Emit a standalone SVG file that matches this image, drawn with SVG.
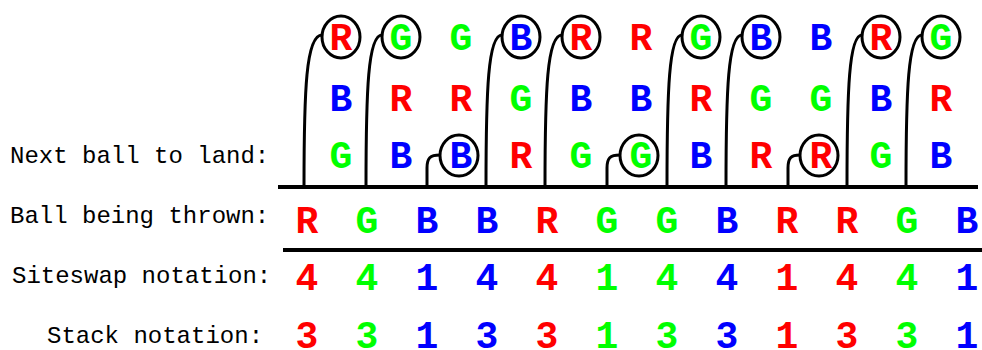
<svg xmlns="http://www.w3.org/2000/svg" width="982" height="350" viewBox="0 0 982 350">
<style>
.lbl{font-family:"Liberation Mono","Courier New",monospace;font-size:24px;fill:#000}
.b{font-family:"Liberation Mono","Courier New",monospace;font-size:38px;font-weight:bold;text-anchor:middle}
.R{fill:#ff0000}.G{fill:#00ff00}.B{fill:#0000ff}
.ring{fill:none;stroke:#000;stroke-width:3}
.con{fill:none;stroke:#000;stroke-width:3}
.bar{stroke:#000;stroke-width:4}
</style>
<rect width="982" height="350" fill="#fff"/>
<g id="labels">
<text class="lbl" x="10" y="163">Next ball to land:</text>
<text class="lbl" x="10" y="223">Ball being thrown:</text>
<text class="lbl" x="12" y="283">Siteswap notation:</text>
<text class="lbl" x="47" y="343">Stack notation:</text>
</g>
<g id="bars">
<line class="bar" x1="278" y1="187" x2="978" y2="187"/>
<line class="bar" x1="283" y1="250" x2="982" y2="250"/>
</g>
<g id="connectors">
<path class="con" d="M304,187 C304,90 306,35 322,35"/>
<path class="con" d="M366,187 C366,90 368,35 382,35"/>
<path class="con" d="M427,187 L427,168 C427,158 430,155 440,155"/>
<path class="con" d="M486,187 C486,90 488,35 502,35"/>
<path class="con" d="M545,187 C545,90 547,35 562,35"/>
<path class="con" d="M607,187 L607,168 C607,158 610,155 620,155"/>
<path class="con" d="M667,187 C667,90 669,35 682,35"/>
<path class="con" d="M726,187 C726,90 728,35 742,35"/>
<path class="con" d="M788,187 L788,168 C788,158 791,155 800,155"/>
<path class="con" d="M847,187 C847,90 849,35 862,35"/>
<path class="con" d="M906,187 C906,90 908,35 922,35"/>
</g>
<g id="landing">
<g id="col0"><text class="b R" x="341" y="50">R</text><text class="b B" x="341" y="111">B</text><text class="b G" x="341" y="168">G</text><ellipse class="ring" cx="341" cy="37" rx="19" ry="21"/></g>
<g id="col1"><text class="b G" x="401" y="50">G</text><text class="b R" x="401" y="111">R</text><text class="b B" x="401" y="168">B</text><ellipse class="ring" cx="401" cy="37" rx="19" ry="21"/></g>
<g id="col2"><text class="b G" x="461" y="50">G</text><text class="b R" x="461" y="111">R</text><text class="b B" x="461" y="168">B</text><ellipse class="ring" cx="459" cy="155.5" rx="19" ry="20.5"/></g>
<g id="col3"><text class="b B" x="521" y="50">B</text><text class="b G" x="521" y="111">G</text><text class="b R" x="521" y="168">R</text><ellipse class="ring" cx="521" cy="37" rx="19" ry="21"/></g>
<g id="col4"><text class="b R" x="581" y="50">R</text><text class="b B" x="581" y="111">B</text><text class="b G" x="581" y="168">G</text><ellipse class="ring" cx="581" cy="37" rx="19" ry="21"/></g>
<g id="col5"><text class="b R" x="641" y="50">R</text><text class="b B" x="641" y="111">B</text><text class="b G" x="641" y="168">G</text><ellipse class="ring" cx="639" cy="155.5" rx="19" ry="20.5"/></g>
<g id="col6"><text class="b G" x="701" y="50">G</text><text class="b R" x="701" y="111">R</text><text class="b B" x="701" y="168">B</text><ellipse class="ring" cx="701" cy="37" rx="19" ry="21"/></g>
<g id="col7"><text class="b B" x="761" y="50">B</text><text class="b G" x="761" y="111">G</text><text class="b R" x="761" y="168">R</text><ellipse class="ring" cx="761" cy="37" rx="19" ry="21"/></g>
<g id="col8"><text class="b B" x="821" y="50">B</text><text class="b G" x="821" y="111">G</text><text class="b R" x="821" y="168">R</text><ellipse class="ring" cx="819" cy="155.5" rx="19" ry="20.5"/></g>
<g id="col9"><text class="b R" x="881" y="50">R</text><text class="b B" x="881" y="111">B</text><text class="b G" x="881" y="168">G</text><ellipse class="ring" cx="881" cy="37" rx="19" ry="21"/></g>
<g id="col10"><text class="b G" x="941" y="50">G</text><text class="b R" x="941" y="111">R</text><text class="b B" x="941" y="168">B</text><ellipse class="ring" cx="941" cy="37" rx="19" ry="21"/></g>
</g>
<g id="thrown">
<text class="b R" x="307" y="233">R</text><text class="b G" x="367" y="233">G</text><text class="b B" x="427" y="233">B</text><text class="b B" x="487" y="233">B</text><text class="b R" x="547" y="233">R</text><text class="b G" x="607" y="233">G</text><text class="b G" x="667" y="233">G</text><text class="b B" x="727" y="233">B</text><text class="b R" x="787" y="233">R</text><text class="b R" x="847" y="233">R</text><text class="b G" x="907" y="233">G</text><text class="b B" x="967" y="233">B</text>
</g>
<g id="siteswap">
<text class="b R" x="307" y="290">4</text><text class="b G" x="367" y="290">4</text><text class="b B" x="427" y="290">1</text><text class="b B" x="487" y="290">4</text><text class="b R" x="547" y="290">4</text><text class="b G" x="607" y="290">1</text><text class="b G" x="667" y="290">4</text><text class="b B" x="727" y="290">4</text><text class="b R" x="787" y="290">1</text><text class="b R" x="847" y="290">4</text><text class="b G" x="907" y="290">4</text><text class="b B" x="967" y="290">1</text>
</g>
<g id="stack">
<text class="b R" x="307" y="348">3</text><text class="b G" x="367" y="348">3</text><text class="b B" x="427" y="348">1</text><text class="b B" x="487" y="348">3</text><text class="b R" x="547" y="348">3</text><text class="b G" x="607" y="348">1</text><text class="b G" x="667" y="348">3</text><text class="b B" x="727" y="348">3</text><text class="b R" x="787" y="348">1</text><text class="b R" x="847" y="348">3</text><text class="b G" x="907" y="348">3</text><text class="b B" x="967" y="348">1</text>
</g>
</svg>
